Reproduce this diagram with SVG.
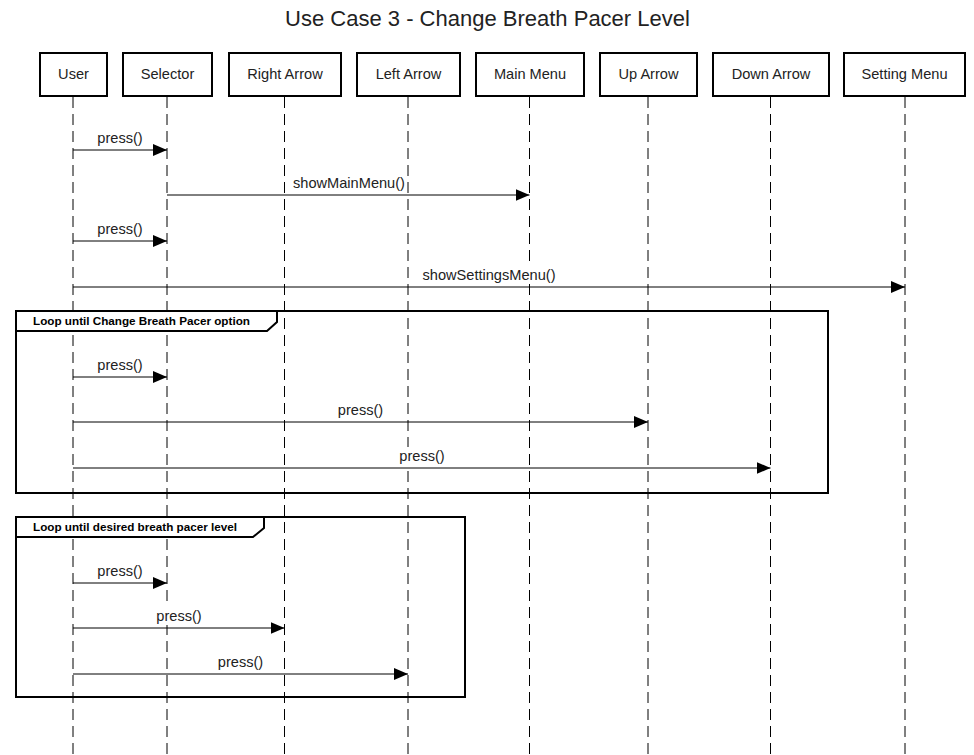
<svg xmlns="http://www.w3.org/2000/svg" width="974" height="755" viewBox="0 0 974 755">
<defs>
<style>
.box{fill:#fff;stroke:#000;stroke-width:2}
.bt{font-family:"Liberation Sans",Arial,sans-serif;font-size:14.6px;fill:#222;text-anchor:middle}
.life{stroke:#000;stroke-width:1;stroke-dasharray:11 6;fill:none}
.msg{stroke:#000;stroke-width:1;fill:none;marker-end:url(#ah)}
.mt{font-family:"Liberation Sans",Arial,sans-serif;font-size:14.6px;fill:#222;text-anchor:middle}
.bg{fill:#fff;stroke:none}
.frame{fill:none;stroke:#000;stroke-width:2}
.lab{fill:#fff;stroke:#000;stroke-width:2}
.ft{font-family:"Liberation Sans",Arial,sans-serif;font-size:11.7px;font-weight:bold;fill:#000;text-anchor:middle}
.title{font-family:"Liberation Sans",Arial,sans-serif;font-size:22px;fill:#222;text-anchor:middle}
</style>
<marker id="ah" markerWidth="14" markerHeight="12" viewBox="0 0 14 12" refX="14" refY="6" orient="auto" markerUnits="userSpaceOnUse"><path d="M0,0 L14,6 L0,12 Z" fill="#000"/></marker>
</defs>
<rect width="974" height="755" fill="#fff"/>
<text class="title" x="487.5" y="25.5">Use Case 3 - Change Breath Pacer Level</text>

<g id="lifelines">
<line class="life" x1="73" y1="97" x2="73" y2="755"/>
<line class="life" x1="167" y1="97" x2="167" y2="755"/>
<line class="life" x1="284.5" y1="97" x2="284.5" y2="755"/>
<line class="life" x1="408" y1="97" x2="408" y2="755"/>
<line class="life" x1="529.5" y1="97" x2="529.5" y2="755"/>
<line class="life" x1="648" y1="97" x2="648" y2="755"/>
<line class="life" x1="770.5" y1="97" x2="770.5" y2="755"/>
<line class="life" x1="905" y1="97" x2="905" y2="755"/>
</g>

<g id="frames">
<g id="loop1">
<rect class="frame" x="16" y="311" width="812" height="182"/>
<path class="lab" d="M16,311 H277 V322 L267,331 H16 Z"/>
<text class="ft" x="141.5" y="325">Loop until Change Breath Pacer option</text>
</g>
<g id="loop2">
<rect class="frame" x="16" y="517" width="449" height="180"/>
<path class="lab" d="M16,517 H264 V528 L253,537 H16 Z"/>
<text class="ft" x="135" y="531">Loop until desired breath pacer level</text>
</g>
</g>

<g id="n-user"><rect class="box" x="40" y="53" width="67" height="43"/><text class="bt" x="73.5" y="79">User</text></g>
<g id="n-selector"><rect class="box" x="123" y="53" width="89" height="43"/><text class="bt" x="167.5" y="79">Selector</text></g>
<g id="n-right"><rect class="box" x="229" y="53" width="112" height="43"/><text class="bt" x="285" y="79">Right Arrow</text></g>
<g id="n-left"><rect class="box" x="357" y="53" width="103" height="43"/><text class="bt" x="408.5" y="79">Left Arrow</text></g>
<g id="n-main"><rect class="box" x="476" y="53" width="108" height="43"/><text class="bt" x="530" y="79">Main Menu</text></g>
<g id="n-up"><rect class="box" x="600" y="53" width="97" height="43"/><text class="bt" x="648.5" y="79">Up Arrow</text></g>
<g id="n-down"><rect class="box" x="713" y="53" width="116" height="43"/><text class="bt" x="771" y="79">Down Arrow</text></g>
<g id="n-setting"><rect class="box" x="844" y="53" width="121" height="43"/><text class="bt" x="904.5" y="79">Setting Menu</text></g>

<g id="connectors">
<line class="msg" x1="73" y1="150" x2="167" y2="150"/><rect class="bg" x="96" y="129" width="48" height="18"/><text class="mt" x="120" y="143">press()</text>
<line class="msg" x1="167" y1="195" x2="529.5" y2="195"/><rect class="bg" x="292" y="174" width="114" height="18"/><text class="mt" x="349" y="188">showMainMenu()</text>
<line class="msg" x1="73" y1="241" x2="167" y2="241"/><rect class="bg" x="96" y="220" width="48" height="18"/><text class="mt" x="120" y="234">press()</text>
<line class="msg" x1="73" y1="287" x2="905" y2="287"/><rect class="bg" x="421" y="266" width="136" height="18"/><text class="mt" x="489" y="280">showSettingsMenu()</text>
<line class="msg" x1="73" y1="377" x2="167" y2="377"/><rect class="bg" x="96" y="356" width="48" height="18"/><text class="mt" x="120" y="370">press()</text>
<line class="msg" x1="73" y1="422" x2="648" y2="422"/><rect class="bg" x="336.5" y="401" width="48" height="18"/><text class="mt" x="360.5" y="415">press()</text>
<line class="msg" x1="73" y1="468" x2="770.5" y2="468"/><rect class="bg" x="398" y="447" width="48" height="18"/><text class="mt" x="422" y="461">press()</text>
<line class="msg" x1="73" y1="583" x2="167" y2="583"/><rect class="bg" x="96" y="562" width="48" height="18"/><text class="mt" x="120" y="576">press()</text>
<line class="msg" x1="73" y1="628" x2="284.5" y2="628"/><rect class="bg" x="155" y="607" width="48" height="18"/><text class="mt" x="179" y="621">press()</text>
<line class="msg" x1="73" y1="674" x2="408" y2="674"/><rect class="bg" x="216.5" y="653" width="48" height="18"/><text class="mt" x="240.5" y="667">press()</text>
</g>
</svg>
